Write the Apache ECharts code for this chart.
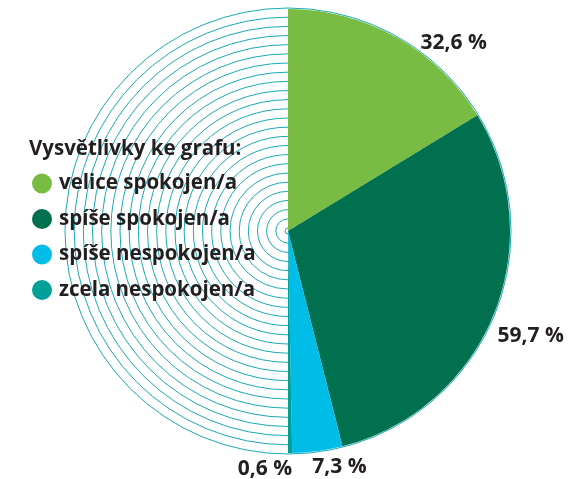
<!DOCTYPE html>
<html>
<head>
<meta charset="utf-8">
<script src="https://cdn.jsdelivr.net/npm/echarts@6/dist/echarts.min.js"></script>
<style>
  html, body { margin: 0; padding: 0; background: #fff; }
  #chart { width: 579px; height: 479px; }
</style>
</head>
<body>
<div id="chart"></div>
<script>
// values
const categories = ['velice spokojen/a', 'spíše spokojen/a', 'spíše nespokojen/a', 'zcela nespokojen/a'];
const shares = [32.6, 59.7, 7.3, 0.6];
const sliceColors = ['#78bc43', '#00704f', '#00bde8', '#00a098'];
const legendTitle = 'Vysvětlivky ke grafu:';

const textColor = '#231f20';
const ringColor = '#1aa9b3';
const center = [288, 231];
const font = 'Open Sans';

// small nudges so the value labels sit where the original puts them
const labelNudge = [
  { dx: 12, dy: 18 },
  { dx: -14, dy: 16 },
  { dx: -12, dy: 2 },
  { dx: -3, dy: 2, align: 'right' }
];

const chart = echarts.init(document.getElementById('chart'));

const pieData = categories.map((name, i) => ({
  name: name,
  value: shares[i],
  itemStyle: { color: sliceColors[i] }
}));

chart.setOption({
  animation: false,
  title: {
    text: legendTitle,
    left: 24,
    top: 134,
    textStyle: { fontFamily: font, fontWeight: 'bold', fontSize: 20.5, color: textColor }
  },
  legend: {
    orient: 'vertical',
    left: 27,
    top: 168,
    icon: 'circle',
    itemWidth: 20,
    itemHeight: 20,
    itemGap: 14.5,
    data: categories,
    textStyle: {
      fontFamily: font, fontWeight: 'bold', fontSize: 20.5, color: textColor,
      padding: [0, 0, 0, 2]
    }
  },
  // decorative concentric rings behind the half pie
  polar: { center: center, radius: [3, 223] },
  angleAxis: { show: false, min: 0, max: 360 },
  radiusAxis: {
    type: 'value',
    min: 0,
    max: 24,
    interval: 1,
    axisLine: { show: false },
    axisTick: { show: false },
    axisLabel: { show: false },
    splitLine: { show: true, lineStyle: { color: ringColor, width: 1 } }
  },
  series: [{
    type: 'pie',
    center: center,
    radius: 222,
    startAngle: 90,
    endAngle: -90,
    clockwise: true,
    avoidLabelOverlap: false,
    silent: true,
    label: {
      show: true,
      position: 'outside',
      formatter: p => String(p.value).replace('.', ',') + ' %',
      fontFamily: font,
      fontWeight: 'bold',
      fontSize: 21,
      color: textColor
    },
    labelLine: { show: false, length: 14, length2: 0 },
    labelLayout: p => Object.assign({ hideOverlap: false }, labelNudge[p.dataIndex]),
    data: pieData
  }]
});
</script>
</body>
</html>
